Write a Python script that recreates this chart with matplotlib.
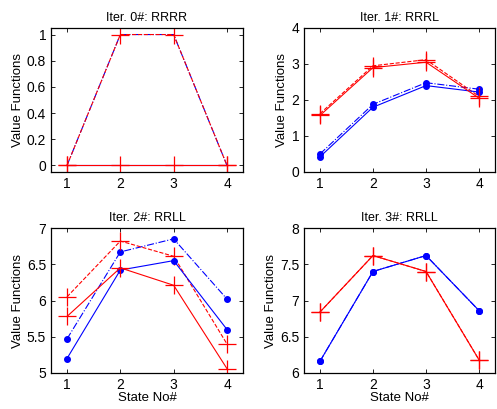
import matplotlib
matplotlib.use("Agg")
import matplotlib.pyplot as plt
from matplotlib.ticker import FuncFormatter

plt.rcParams['font.family'] = ['Liberation Sans', 'DejaVu Sans']

states = [1, 2, 3, 4]
titles = ["Iter. 0#: RRRR", "Iter. 1#: RRRL", "Iter. 2#: RRLL", "Iter. 3#: RRLL"]

# solid red, dashed red, solid blue, dash-dot blue
red_solid = [[0, 0, 0, 0], [1.57, 2.90, 3.05, 2.05], [5.78, 6.45, 6.21, 5.06], [6.84, 7.62, 7.40, 6.18]]
red_dash = [[0, 1, 1, 0], [1.62, 2.95, 3.12, 2.10], [6.05, 6.82, 6.61, 5.40], [6.84, 7.62, 7.40, 6.18]]
blue_solid = [[0, 0, 0, 0], [0.42, 1.80, 2.40, 2.22], [5.20, 6.42, 6.55, 5.60], [6.16, 7.40, 7.62, 6.86]]
blue_dash = [[0, 1, 1, 0], [0.50, 1.88, 2.48, 2.30], [5.47, 6.67, 6.85, 6.02], [6.16, 7.40, 7.62, 6.86]]

ylims = [(-0.05, 1.05), (0, 4), (5, 7), (6, 8)]
yticks = [[0, 0.2, 0.4, 0.6, 0.8, 1], [0, 1, 2, 3, 4], [5, 5.5, 6, 6.5, 7], [6, 6.5, 7, 7.5, 8]]

W, H = 497, 409
fig = plt.figure(figsize=(W / 100, H / 100), dpi=100)
boxes = [(51, 28, 243, 172), (304, 28, 495, 172), (51, 228, 243, 373), (304, 228, 495, 373)]

for i, (l, t, r, b) in enumerate(boxes):
    ax = fig.add_axes([l / W, 1 - b / H, (r - l) / W, (b - t) / H])
    bm = None if i == 0 else '.'
    ax.plot(states, blue_dash[i], color='blue', ls='-.', lw=0.8, marker=bm, ms=8)
    ax.plot(states, red_dash[i], color='red', ls='--', lw=0.8, marker='+', ms=13.5, mew=0.9)
    ax.plot(states, blue_solid[i], color='blue', ls='-', lw=0.8, marker=bm, ms=8)
    ax.plot(states, red_solid[i], color='red', ls='-', lw=0.8, marker='+', ms=13.5, mew=0.9)
    ax.set_xlim(0.7, 4.3)
    ax.set_ylim(*ylims[i])
    ax.set_xticks(states)
    ax.set_yticks(yticks[i])
    ax.yaxis.set_major_formatter(FuncFormatter(lambda v, p: f"{v:g}"))
    ax.tick_params(direction='in', top=True, right=True, labelsize=10, length=3, width=0.6)
    for s in ax.spines.values():
        s.set_linewidth(0.9)
    ax.set_title(titles[i], fontsize=9, pad=5)
    ax.set_ylabel("Value Functions", fontsize=9.5, labelpad=2)
    if i >= 2:
        ax.set_xlabel("State No#", fontsize=9.5, labelpad=0)

fig.savefig("out.png", dpi=100)
